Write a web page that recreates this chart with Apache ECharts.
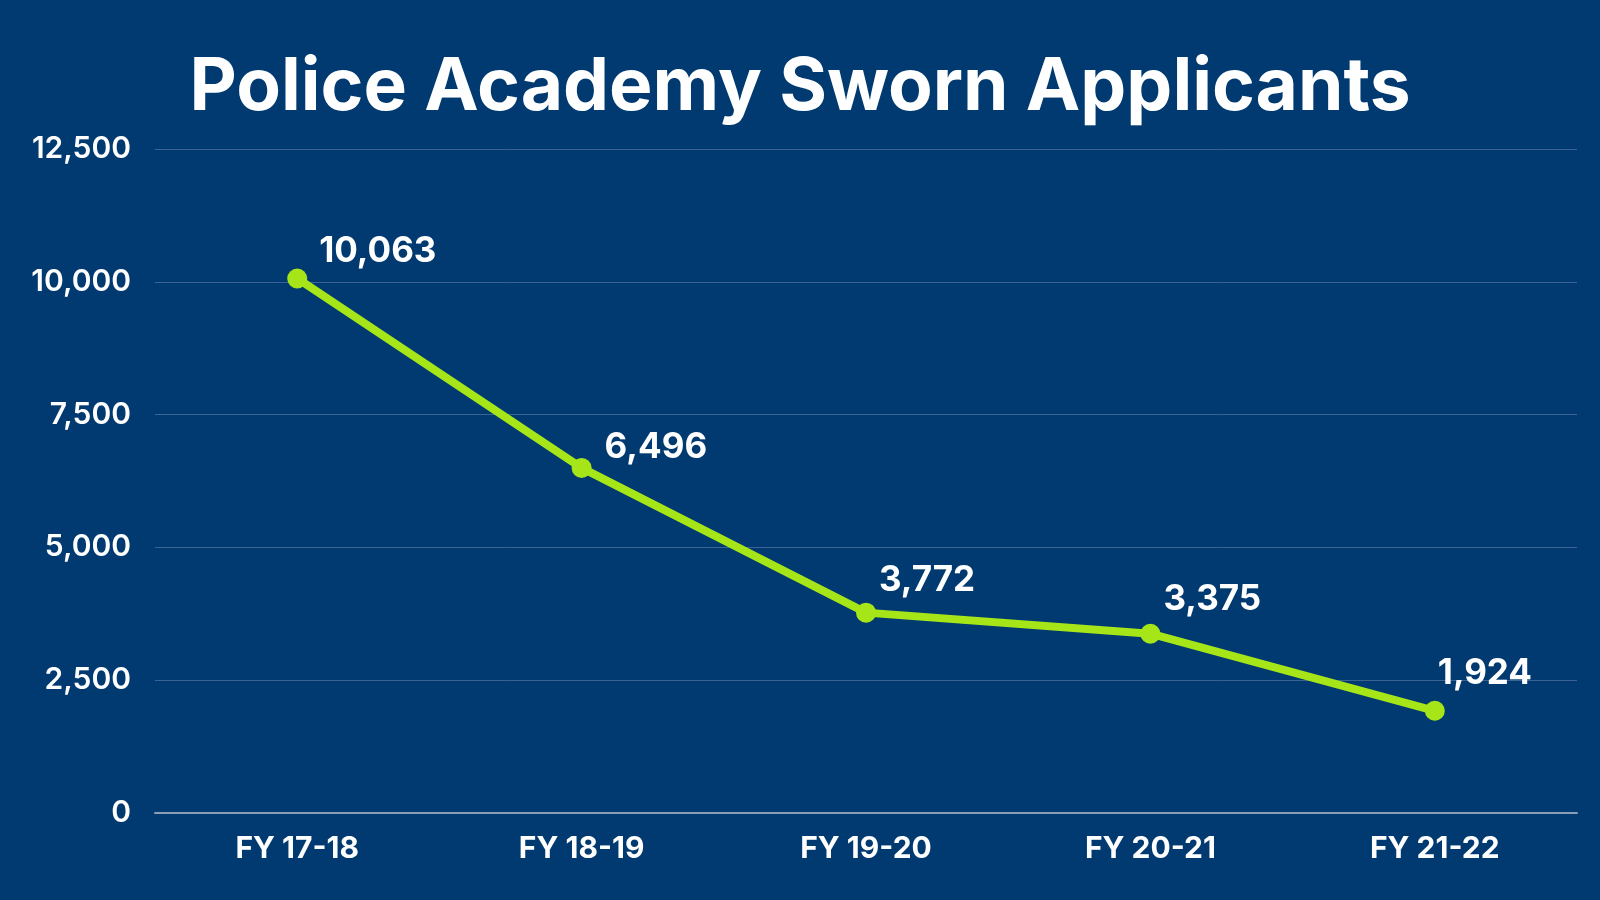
<!DOCTYPE html>
<html>
<head>
<meta charset="UTF-8">
<title>Police Academy Sworn Applicants</title>
<script src="https://cdn.jsdelivr.net/npm/echarts@6/dist/echarts.min.js"></script>
<style>
	html, body { margin:0; padding:0; background:#003a70; }
	#chart { width:1600px; height:900px; }
</style>
</head>
<body>
	<div id="chart"></div>

	<script type="text/javascript">
		var years = ['FY 17-18', 'FY 18-19', 'FY 19-20', 'FY 20-21', 'FY 21-22'];
		var applicants = [10063, 6496, 3772, 3375, 1924];

		// label nudges, one per point (x, y from symbol centre)
		var labelShift = [[22, -27], [23, -20], [13, -32], [13, -34], [3, -37]];

		window.onload = drawChart;

		function drawChart(){
			var myChart = echarts.init(document.getElementById('chart'));

			var points = [];
			for(var i=0; i<applicants.length; i++){
				points.push({
					value: applicants[i],
					label: { offset: labelShift[i] }
				});
			}

			var option = {
				backgroundColor: '#003a70',
				title: {
					text: 'Police Academy Sworn Applicants',
					left: 'center',
					top: 47,
					textStyle: {
						color: '#ffffff',
						fontFamily: 'Inter',
						fontWeight: 'bold',
						fontSize: 73
					}
				},
				grid: {
					left: 155,
					right: 23,
					top: 149,
					bottom: 87
				},
				xAxis: {
					type: 'category',
					data: years,
					axisLine: { lineStyle: { color: '#8c9db8', width: 2 } },
					axisTick: { show: false },
					axisLabel: {
						color: '#ffffff',
						fontFamily: 'Inter',
						fontWeight: 'bold',
						fontSize: 30,
						margin: 21
					}
				},
				yAxis: {
					type: 'value',
					min: 0,
					max: 12500,
					interval: 2500,
					axisLine: { show: false },
					axisTick: { show: false },
					splitLine: { lineStyle: { color: '#3a6393', width: 1 } },
					axisLabel: {
						color: '#ffffff',
						fontFamily: 'Inter',
						fontWeight: 600,
						fontSize: 30,
						margin: 24,
						formatter: function(v){ return v.toLocaleString('en-US'); }
					}
				},
				series: [{
					type: 'line',
					data: points,
					color: '#a6e619',
					symbol: 'circle',
					symbolSize: 20,
					lineStyle: { width: 8, color: '#a6e619' },
					itemStyle: { color: '#a6e619' },
					label: {
						show: true,
						position: 'inside',
						align: 'left',
						verticalAlign: 'middle',
						color: '#ffffff',
						fontFamily: 'Inter',
						fontWeight: 'bold',
						fontSize: 35,
						formatter: function(p){ return p.value.toLocaleString('en-US'); }
					}
				}]
			};

			myChart.setOption(option);
		}
	</script>
</body>
</html>
